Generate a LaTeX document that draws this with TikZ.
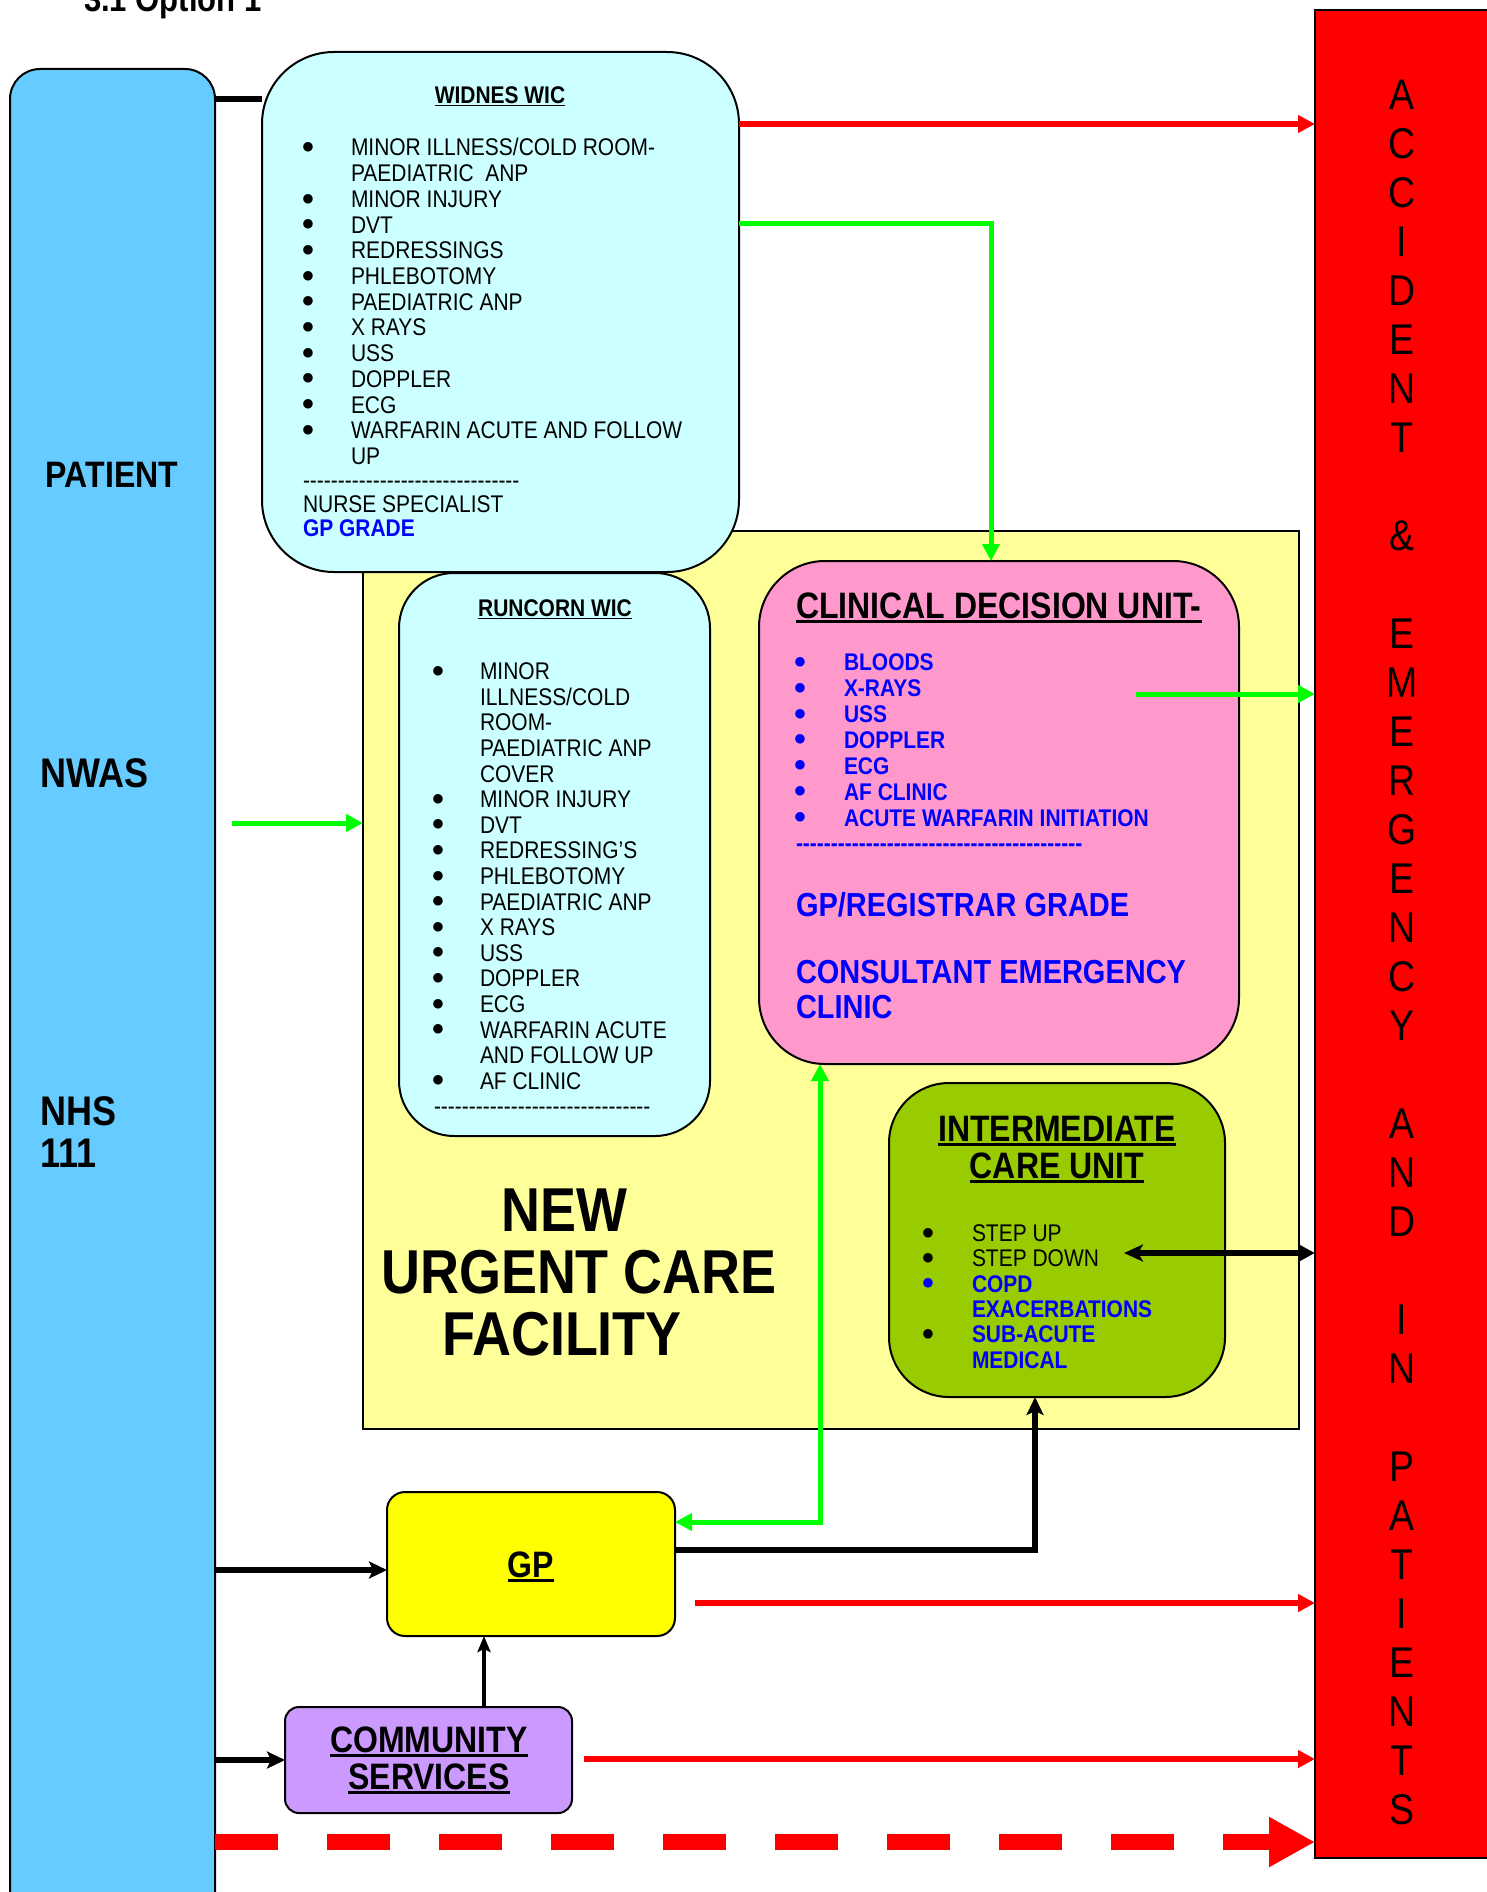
\documentclass[tikz,border=0pt]{standalone}
\usepackage{fontspec}
\setmainfont{Liberation Sans}[Ligatures=TeXOff,FakeStretch=0.87]
\newfontfamily\bulfont{DejaVu Sans}
\usetikzlibrary{arrows.meta}
\definecolor{patblue}{HTML}{66CCFF}
\definecolor{wicblue}{HTML}{CCFFFF}
\definecolor{facyel}{HTML}{FFFF99}
\definecolor{cdupink}{HTML}{FF99CC}
\definecolor{icugreen}{HTML}{99CC00}
\definecolor{gpyel}{HTML}{FFFF00}
\definecolor{compurple}{HTML}{CC99FF}
\definecolor{aered}{HTML}{FF0000}
\definecolor{arrgreen}{HTML}{00FF00}
\definecolor{txtblue}{HTML}{0000FF}
\newsavebox\ulbox
\newcommand\myul[1]{\sbox\ulbox{#1}\rlap{\rule[-0.12em]{\wd\ulbox}{0.07em}}\usebox\ulbox}
\newcommand\fs[2]{\fontsize{#1}{#2}\selectfont}
\begin{document}
\begin{tikzpicture}[x=1pt,y=-1pt,
  every node/.style={inner sep=0pt,outer sep=0pt},
  box/.style={draw=black,line width=2pt},
  item/.style={anchor=base west,font=\fs{24.1}{26}},
  bitem/.style={anchor=base west,font=\fs{24.1}{26}\bfseries,text=txtblue},
  bul/.style={anchor=center,font=\bulfont\fs{12.5}{13}},
  head/.style={anchor=base,font=\fs{36.8}{40}\bfseries},
  aeletter/.style={anchor=base,font=\fs{43}{49}},
  redarr/.style={draw=aered,line width=5.3pt,-{Triangle[length=17pt,width=17pt]}},
  grnarr/.style={draw=arrgreen,line width=5pt,-{Triangle[length=17pt,width=17pt]}},
  blkarr/.style={draw=black,line width=6pt,-{Stealth[length=18pt,width=17pt,inset=4pt]}}]
\useasboundingbox (0,0) rectangle (1486,1892);
\fill[white] (0,0) rectangle (1486,1892);

% title (cut off at top)
\node[anchor=base west,font=\fs{35.7}{40}\bfseries] (title) at (84,12) {3.1 Option 1};

% boxes
\node[box,fill=facyel,minimum width=936pt,minimum height=898pt] (fac) at (831,980) {};
\node[box,fill=patblue,rounded corners=30pt,minimum width=205pt,minimum height=1861pt] (patient) at (112.5,999.5) {};
\node[box,fill=aered,minimum width=185pt,minimum height=1848pt] (ae) at (1407.5,934) {};
\node[box,fill=wicblue,rounded corners=72pt,minimum width=477pt,minimum height=520pt] (widnes) at (500.5,312) {};
\node[box,fill=wicblue,rounded corners=55pt,minimum width=311pt,minimum height=563pt] (runcorn) at (554.5,854.5) {};
\node[box,fill=cdupink,rounded corners=66pt,minimum width=480pt,minimum height=503pt] (cdu) at (999,812.5) {};
\node[box,fill=icugreen,rounded corners=60pt,minimum width=336pt,minimum height=314pt] (icu) at (1057,1240) {};
\node[box,fill=gpyel,rounded corners=18pt,minimum width=288pt,minimum height=144pt] (gp) at (531,1564) {};
\node[box,fill=compurple,rounded corners=14pt,minimum width=287pt,minimum height=106pt] (comm) at (428.5,1760) {};

% patient column text
\node[head] (pt1) at (112,487) {PATIENT};
\node[anchor=base west,font=\fs{41.4}{44}\bfseries] (pt2) at (40,787) {NWAS};
\node[anchor=base west,font=\fs{41.4}{44}\bfseries] (pt3) at (40,1125) {NHS};
\node[anchor=base west,font=\fs{41.4}{44}\bfseries] (pt4) at (40,1167) {111};

% A&E column
\foreach \ch/\k in {A/0,C/1,C/2,I/3,D/4,E/5,N/6,T/7,\&/9,E/11,M/12,E/13,R/14,G/15,E/16,N/17,C/18,Y/19,A/21,N/22,D/23,I/25,N/26,P/28,A/29,T/30,I/31,E/32,N/33,T/34,S/35}
  \node[aeletter] (ae\k) at (1402,109.5+49*\k) {\ch};

% Widnes WIC
\node[anchor=base,font=\fs{24.1}{26}\bfseries] (wt) at (500,103.6) {\myul{WIDNES WIC}};
\foreach \t [count=\i from 0] in {MINOR ILLNESS/COLD ROOM-, PAEDIATRIC\ \ ANP, MINOR INJURY, DVT, REDRESSINGS, PHLEBOTOMY, PAEDIATRIC ANP, X RAYS, USS, DOPPLER, ECG, WARFARIN ACUTE AND FOLLOW, UP}
  \node[item] (w\i) at (351,156+25.7*\i) {\t};
\foreach \i in {0,2,3,...,11}
  \node[bul] (wb\i) at (308,147.4+25.7*\i) {●};
\node[item] (wd) at (303,488) {-------------------------------};
\node[item] (wn) at (303,512.5) {NURSE SPECIALIST};
\node[bitem] (wg) at (303,536.5) {GP GRADE};

% Runcorn WIC
\node[anchor=base,font=\fs{24.1}{26}\bfseries] (rt) at (555,616.6) {\myul{RUNCORN WIC}};
\foreach \t [count=\i from 0] in {MINOR, ILLNESS/COLD, ROOM-, PAEDIATRIC ANP, COVER, MINOR INJURY, DVT, REDRESSING’S, PHLEBOTOMY, PAEDIATRIC ANP, X RAYS, USS, DOPPLER, ECG, WARFARIN ACUTE, AND FOLLOW UP, AF CLINIC}
  \node[item] (r\i) at (480,679.6+25.6*\i) {\t};
\foreach \i in {0,5,6,...,14,16}
  \node[bul] (rb\i) at (438,671+25.6*\i) {●};
\node[item] (rd) at (434,1114.8) {-------------------------------};

% Clinical decision unit
\node[anchor=base west,font=\fs{36.8}{40}\bfseries] (ct) at (796,618.2) {\myul{CLINICAL DECISION UNIT-}};
\foreach \t [count=\i from 0] in {BLOODS, X-RAYS, USS, DOPPLER, ECG, AF CLINIC, ACUTE WARFARIN INITIATION}
  \node[bitem] (c\i) at (844,670.6+25.9*\i) {\t};
\foreach \i in {0,...,6}
  \node[bul,text=txtblue] (cb\i) at (800,662+25.9*\i) {●};
\node[bitem] (cd) at (796,851.9) {-----------------------------------------};
\node[anchor=base west,font=\fs{33.3}{36}\bfseries,text=txtblue] (cg) at (796,916.5) {GP/REGISTRAR GRADE};
\node[anchor=base west,font=\fs{33.3}{36}\bfseries,text=txtblue] (cc1) at (796,983.5) {CONSULTANT EMERGENCY};
\node[anchor=base west,font=\fs{33.3}{36}\bfseries,text=txtblue] (cc2) at (796,1018.5) {CLINIC};

% Intermediate care unit
\node[head] (it1) at (1057,1141.2) {\myul{INTERMEDIATE}};
\node[head] (it2) at (1057,1178.2) {\myul{CARE UNIT}};
\node[item] (i0) at (972,1241.6) {STEP UP};
\node[item] (i1) at (972,1266.9) {STEP DOWN};
\node[bitem] (i2) at (972,1292.2) {COPD};
\node[bitem] (i3) at (972,1317.5) {EXACERBATIONS};
\node[bitem] (i4) at (972,1342.8) {SUB-ACUTE};
\node[bitem] (i5) at (972,1368.1) {MEDICAL};
\node[bul] (ib0) at (928,1233) {●};
\node[bul] (ib1) at (928,1258.3) {●};
\node[bul,text=txtblue] (ib2) at (928,1283.6) {●};
\node[bul] (ib4) at (928,1334.2) {●};

% facility label
\node[anchor=base,font=\fs{62}{66}\bfseries] (f1) at (564,1231) {NEW};
\node[anchor=base,font=\fs{62}{66}\bfseries] (f2) at (579,1293) {URGENT CARE};
\node[anchor=base,font=\fs{62}{66}\bfseries] (f3) at (562,1355) {FACILITY};

% GP and community
\node[head] (gpt) at (531,1577.2) {\myul{GP}};
\node[head] (cm1) at (429,1752.2) {\myul{COMMUNITY}};
\node[head] (cm2) at (429,1789.2) {\myul{SERVICES}};

% connectors
\coordinate (c1) at (0,99);
\draw[line width=5.5pt] (patient.east |- c1) -- (widnes.west |- c1);
\coordinate (r1) at (0,124);
\draw[redarr] (widnes.east |- r1) -- (ae.west |- r1);
\coordinate (g1) at (991,223);
\draw[grnarr] (widnes.east |- g1) -| (g1 |- cdu.north);
\coordinate (g2) at (232,823);
\draw[grnarr] (g2) -- (fac.west |- g2);
\coordinate (g3) at (1136,694);
\draw[grnarr] (g3) -- (ae.west |- g3);
\coordinate (b1) at (1124,1253);
\draw[line width=5.5pt,{Stealth[length=19pt,width=17pt,inset=5pt]}-{Triangle[length=17pt,width=17pt]}] (b1) -- (ae.west |- b1);
\coordinate (g4) at (820,1522);
\draw[draw=arrgreen,line width=5pt,{Triangle[length=17pt,width=17pt]}-{Triangle[length=17pt,width=17pt]}] (gp.east |- g4) -| (g4 |- cdu.south);
\coordinate (b2) at (1035,1550);
\draw[blkarr] (gp.east |- b2) -| (b2 |- icu.south);
\coordinate (r2) at (695,1603);
\draw[redarr] (r2) -- (ae.west |- r2);
\coordinate (b3) at (0,1570);
\draw[blkarr] (patient.east |- b3) -- (gp.west |- b3);
\coordinate (b4) at (484,0);
\draw[line width=4pt,-{Stealth[length=16pt,width=13pt,inset=3pt]}] (comm.north -| b4) -- (gp.south -| b4);
\draw[blkarr] (patient.east |- comm.west) -- (comm.west);
\coordinate (r3) at (584,1759);
\draw[redarr] (r3) -- (ae.west |- r3);
\coordinate (r4) at (0,1842);
\draw[draw=aered,line width=16.5pt,dash pattern=on 63pt off 49pt,-{Triangle[length=46pt,width=47pt]}] (patient.east |- r4) -- (ae.west |- r4);
\end{tikzpicture}
\end{document}
